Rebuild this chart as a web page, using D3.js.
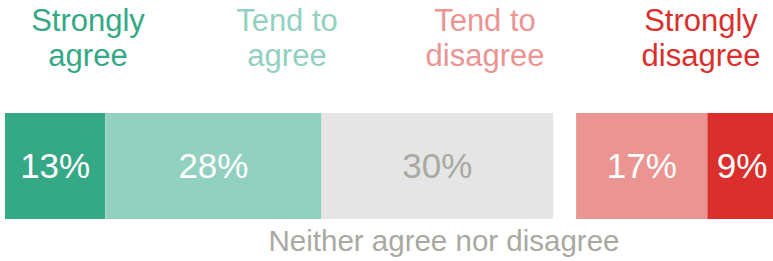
<!DOCTYPE html>
<html>
<head>
<meta charset="utf-8">
<script src="https://cdn.jsdelivr.net/npm/d3@7"></script>
<style>
  body { margin: 0; background: #fff; }
  svg { display: block; font-family: "Liberation Sans", Arial, sans-serif; }
</style>
</head>
<body>
<svg width="773" height="261"></svg>
<script>
// data
const categories = ["Strongly agree", "Tend to agree", "Neither agree nor disagree", "Tend to disagree", "Strongly disagree"];
const values = [13, 28, 30, 17, 9];
const colors = ["#35a886", "#92d1bf", "#e5e5e5", "#eb9593", "#da2f2c"];
const labelColors = ["#ffffff", "#ffffff", "#a9a9a2", "#ffffff", "#ffffff"];
const headerLines = [["Strongly", "agree"], ["Tend to", "agree"], ["Tend to", "disagree"], ["Strongly", "disagree"]];
const headerColors = ["#35a886", "#92d1bf", "#eb9593", "#da2f2c"];

const width = 773, height = 261;
const barTop = 113, barHeight = 106;
const gap = 23;   // space between neutral and disagree
const headerX = [88, 287, 485, 701];

const svg = d3.select("svg");

const x = d3.scaleLinear()
    .domain([0, 100])
    .range([0, 772]);

// cumulative positions
let acc = 0;
const segs = values.map((v, i) => {
    const s = {cat: categories[i], value: v, start: acc, i: i};
    acc += v;
    return s;
});
const offset = d => 5 + (d.i > 2 ? gap : 0);

const g = svg.append("g");

g.selectAll("rect").data(segs)
  .enter().append("rect")
    .attr("x", d => offset(d) + x(d.start))
    .attr("y", barTop)
    .attr("width", d => x(d.value))
    .attr("height", barHeight)
    .attr("fill", (d, i) => colors[i]);

g.selectAll("text.pct").data(segs)
  .enter().append("text")
    .attr("class", "pct")
    .attr("x", d => offset(d) + x(d.start + d.value / 2))
    .attr("y", 178)
    .attr("text-anchor", "middle")
    .attr("font-size", "35px")
    .attr("fill", (d, i) => labelColors[i])
    .text(d => d.value + "%");

// headers
const heads = svg.selectAll("text.head").data(headerLines)
  .enter().append("text")
    .attr("class", "head")
    .attr("text-anchor", "middle")
    .attr("font-size", "31px")
    .attr("fill", (d, i) => headerColors[i]);

heads.selectAll("tspan").data((d, i) => d.map(t => ({t: t, i: i})))
  .enter().append("tspan")
    .attr("x", d => headerX[d.i])
    .attr("y", (d, j) => 31 + j * 35)
    .text(d => d.t);

// neutral label below
svg.append("text")
    .attr("x", 444)
    .attr("y", 251)
    .attr("text-anchor", "middle")
    .attr("font-size", "29.5px")
    .attr("fill", "#a9a9a2")
    .text(categories[2]);
</script>
</body>
</html>
